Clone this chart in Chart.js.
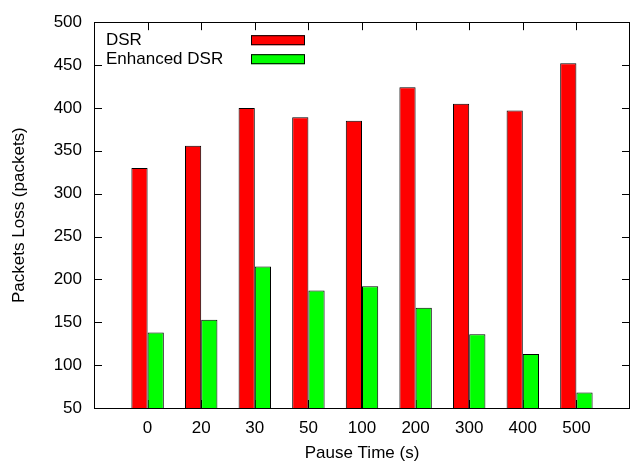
<!DOCTYPE html>
<html>
<head>
<meta charset="utf-8">
<script src="https://cdn.jsdelivr.net/npm/chart.js@4.4.1/dist/chart.umd.min.js"></script>
<style>
  html, body { margin: 0; padding: 0; background: #fff; overflow: hidden; }
  #wrap { width: 637px; height: 466px; overflow: hidden; }
</style>
</head>
<body>
<div id="wrap"><canvas id="loss-chart" width="640" height="466"></canvas></div>
<script>
// Packet loss per pause time, DSR vs Enhanced DSR
var pauseTimes = ["0", "20", "30", "50", "100", "200", "300", "400", "500"];
var dsrLoss = [330, 356, 400, 389, 385, 424, 405, 397, 452];
var enhancedLoss = [138, 153, 215, 187, 192, 167, 136, 113, 68];
var yMin = 50, yMax = 500, yStep = 50;

var FONT = "'Liberation Sans', Arial, Helvetica, sans-serif";
var FONT_SIZE = 17;

// one empty slot either side so the groups sit one step in from the border
var labels = [""].concat(pauseTimes, [""]);
function padded(arr) { return [null].concat(arr, [null]); }

// gnuplot-like frame: inward ticks on all four sides, legend with text left of the sample
var framePlugin = {
  id: "frame",
  beforeDatasetsDraw: function(chart) {
    var ctx = chart.ctx, a = chart.chartArea, x = chart.scales.x;
    ctx.save();
    ctx.strokeStyle = "#000";
    ctx.lineWidth = 1;
    ctx.beginPath();
    for (var i = 1; i <= pauseTimes.length; i++) {
      var px = Math.round(x.getPixelForValue(i)) + 0.5;
      ctx.moveTo(px, a.bottom); ctx.lineTo(px, a.bottom - 8);
      ctx.moveTo(px, a.top); ctx.lineTo(px, a.top + 8);
    }
    ctx.stroke();
    ctx.restore();
  },
  afterDatasetsDraw: function(chart) {
    var ctx = chart.ctx, a = chart.chartArea, y = chart.scales.y;
    ctx.save();
    ctx.strokeStyle = "#000";
    ctx.lineWidth = 1;
    ctx.beginPath();
    y.ticks.forEach(function(t) {
      var py = Math.round(y.getPixelForValue(t.value)) + 0.5;
      ctx.moveTo(a.left, py); ctx.lineTo(a.left + 8, py);
      ctx.moveTo(a.right, py); ctx.lineTo(a.right - 8, py);
    });
    ctx.stroke();
    ctx.strokeRect(Math.round(a.left) + 0.5, Math.round(a.top) + 0.5,
                   Math.round(a.right - a.left) - 1, Math.round(a.bottom - a.top));

    // legend
    ctx.font = FONT_SIZE + "px " + FONT;
    ctx.textAlign = "left";
    ctx.textBaseline = "alphabetic";
    chart.data.datasets.forEach(function(ds, i) {
      var base = a.top + 23 + i * 19;
      ctx.fillStyle = "#000";
      ctx.fillText(ds.label, a.left + 12, base);
      ctx.fillStyle = ds.backgroundColor;
      ctx.fillRect(a.left + 157, base - 10, 54, 10);
      ctx.strokeRect(a.left + 157.5, base - 9.5, 53, 9);
    });
    ctx.restore();
  }
};

new Chart(document.getElementById("loss-chart"), {
  type: "bar",
  data: {
    labels: labels,
    datasets: [
      {
        label: "DSR",
        data: padded(dsrLoss),
        backgroundColor: "#ff0000",
        borderColor: "#000",
        borderWidth: 1,
        borderSkipped: false
      },
      {
        label: "Enhanced DSR",
        data: padded(enhancedLoss),
        backgroundColor: "#00ff00",
        borderColor: "#000",
        borderWidth: 1,
        borderSkipped: false
      }
    ]
  },
  options: {
    responsive: false,
    animation: false,
    devicePixelRatio: 1,
    layout: { padding: { top: 16, right: 0, left: 0, bottom: 0 } },
    datasets: { bar: { categoryPercentage: 0.605, barPercentage: 1.0 } },
    plugins: {
      legend: { display: false },
      tooltip: { enabled: false }
    },
    scales: {
      x: {
        offset: false,
        grid: { display: false, drawTicks: false },
        border: { display: false },
        ticks: { color: "#000", font: { family: FONT, size: FONT_SIZE }, padding: 10, autoSkip: false, maxRotation: 0 },
        title: { display: true, text: "Pause Time (s)", color: "#000", font: { family: FONT, size: FONT_SIZE }, padding: { top: 0, bottom: 2 } },
        afterFit: function(s) { s.height = 58; }
      },
      y: {
        min: yMin,
        max: yMax,
        grid: { display: false, drawTicks: false },
        border: { display: false },
        ticks: { stepSize: yStep, color: "#000", font: { family: FONT, size: FONT_SIZE }, padding: 12 },
        title: { display: true, text: "Packets Loss (packets)", color: "#000", font: { family: FONT, size: FONT_SIZE }, padding: { top: 9, bottom: 0 } },
        afterFit: function(s) { s.width = 94; }
      }
    }
  },
  plugins: [framePlugin]
});
</script>
</body>
</html>
